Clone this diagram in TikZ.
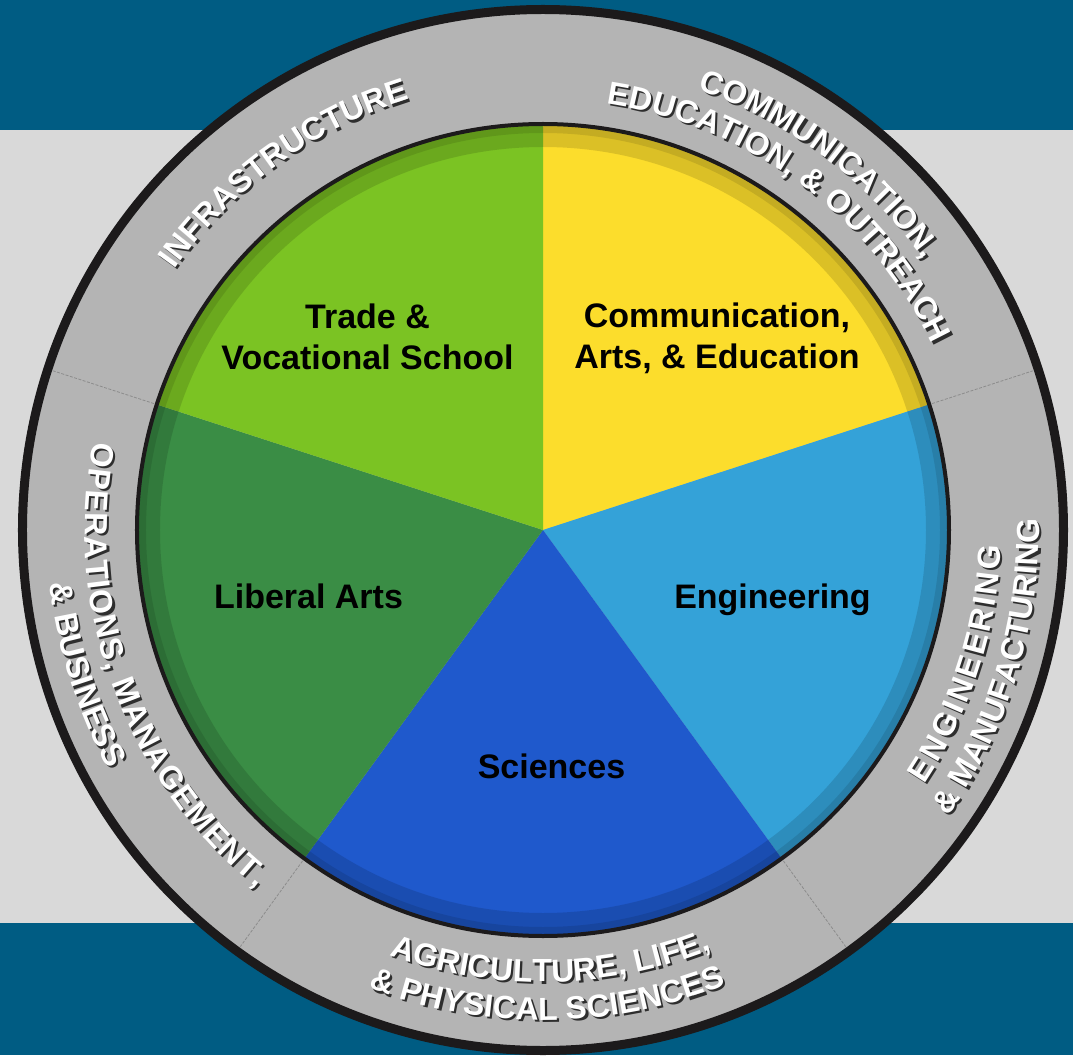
\documentclass[tikz,border=0pt]{standalone}
\usepackage{fontspec}
\setmainfont{Liberation Sans}
\setsansfont{Liberation Sans}
\usetikzlibrary{decorations.text}
\definecolor{bandblue}{HTML}{005C83}
\definecolor{bglight}{HTML}{D9D9D9}
\definecolor{ringgrey}{HTML}{B4B4B4}
\definecolor{rimblack}{HTML}{1C1A1B}
\definecolor{slYellow}{HTML}{FCDD2C}
\definecolor{slLtBlue}{HTML}{34A2D8}
\definecolor{slDkBlue}{HTML}{1F59CC}
\definecolor{slDkGreen}{HTML}{3A8D45}
\definecolor{slLtGreen}{HTML}{7BC323}
\definecolor{shadowgrey}{HTML}{2E2E2E}
\newcommand\ringfmt{\bfseries\fontsize{32}{32}\selectfont}
\newcommand\ringfmtwide{\bfseries\fontsize{32}{32}\selectfont\kern3pt}
\newcommand\ringfmtmid{\bfseries\fontsize{32}{32}\selectfont\kern1.3pt}
\begin{document}
\begin{tikzpicture}[x=1pt,y=1pt,
  pielabel/.style={font=\bfseries\fontsize{34}{41}\selectfont, align=center, text=black, inner sep=0pt},
  divider/.style={draw=black!45, line width=0.8pt, dash pattern=on 3pt off 1.5pt},
  ringtext/.style={decorate, decoration={text along path, text align=center, text color=white, text={#1}}},
  ringshadow/.style={decorate, decoration={text along path, text align=center, text color=shadowgrey, text={#1}}},
]
\useasboundingbox (-543,-525) rectangle (530,530);
% background bands
\fill[bandblue] (-543,400) rectangle (530,530);
\fill[bglight] (-543,-393) rectangle (530,400);
\fill[bandblue] (-543,-525) rectangle (530,-393);
% outer ring
\fill[ringgrey] (0,0) circle (518);
\draw[rimblack, line width=9pt] (0,0) circle (520.5);
% dividers in ring
\foreach \a in {162,18,-54,-126} \draw[divider] (\a:409) -- (\a:515);
% pie slices
\fill[slYellow] (0,0) -- (90:405) arc[start angle=90, end angle=18, radius=405] -- cycle;
\fill[slLtBlue] (0,0) -- (18:405) arc[start angle=18, end angle=-54, radius=405] -- cycle;
\fill[slDkBlue] (0,0) -- (-54:405) arc[start angle=-54, end angle=-126, radius=405] -- cycle;
\fill[slDkGreen] (0,0) -- (-126:405) arc[start angle=-126, end angle=-198, radius=405] -- cycle;
\fill[slLtGreen] (0,0) -- (162:405) arc[start angle=162, end angle=90, radius=405] -- cycle;
% rim shading
\draw[black, opacity=0.13, line width=22pt] (0,0) circle (394);
\draw[black, opacity=0.10, line width=8pt] (0,0) circle (401);
\draw[rimblack, line width=4pt] (0,0) circle (406);
% pie labels
\node[pielabel] (trade) at (-175.5,193) {Trade \&\\Vocational School};
\node[pielabel] (comm) at (174,192) {Communication,\\Arts, \& Education};
\node[pielabel, anchor=base] (liberal) at (-234.5,-78) {Liberal Arts};
\node[pielabel, anchor=base] (eng) at (229.5,-78) {Engineering};
\node[pielabel, anchor=base] (sci) at (8.5,-248) {Sciences};
% ring labels (shadow then white)
\newcommand\ringlabel[4]{%
  \path[ringshadow={#4}, xshift=2.2pt, yshift=-2.2pt] (#1:#3) arc[start angle=#1, end angle=#2, radius=#3];
  \path[ringtext={#4}] (#1:#3) arc[start angle=#1, end angle=#2, radius=#3];}
\ringlabel{171}{81}{451}{|\ringfmt|INFRASTRUCTURE}
\ringlabel{98}{8}{467}{|\ringfmt|COMMUNICATION,}
\ringlabel{98.5}{8.5}{431}{|\ringfmt|EDUCATION, {\&} OUTREACH}
\ringlabel{-63}{27}{458}{|\ringfmtwide|ENGINEERING}
\ringlabel{-62}{28}{496}{|\ringfmt|{\&} MANUFACTURING}
\ringlabel{-134}{-44}{452}{|\ringfmt|AGRICULTURE, LIFE,}
\ringlabel{-134.5}{-44.5}{490}{|\ringfmt|{\&} PHYSICAL SCIENCES}
\ringlabel{155}{245}{458}{|\ringfmtmid|OPERATIONS, MANAGEMENT,}
\ringlabel{152.5}{242.5}{496}{|\ringfmt|{\&} BUSINESS}
\end{tikzpicture}
\end{document}
